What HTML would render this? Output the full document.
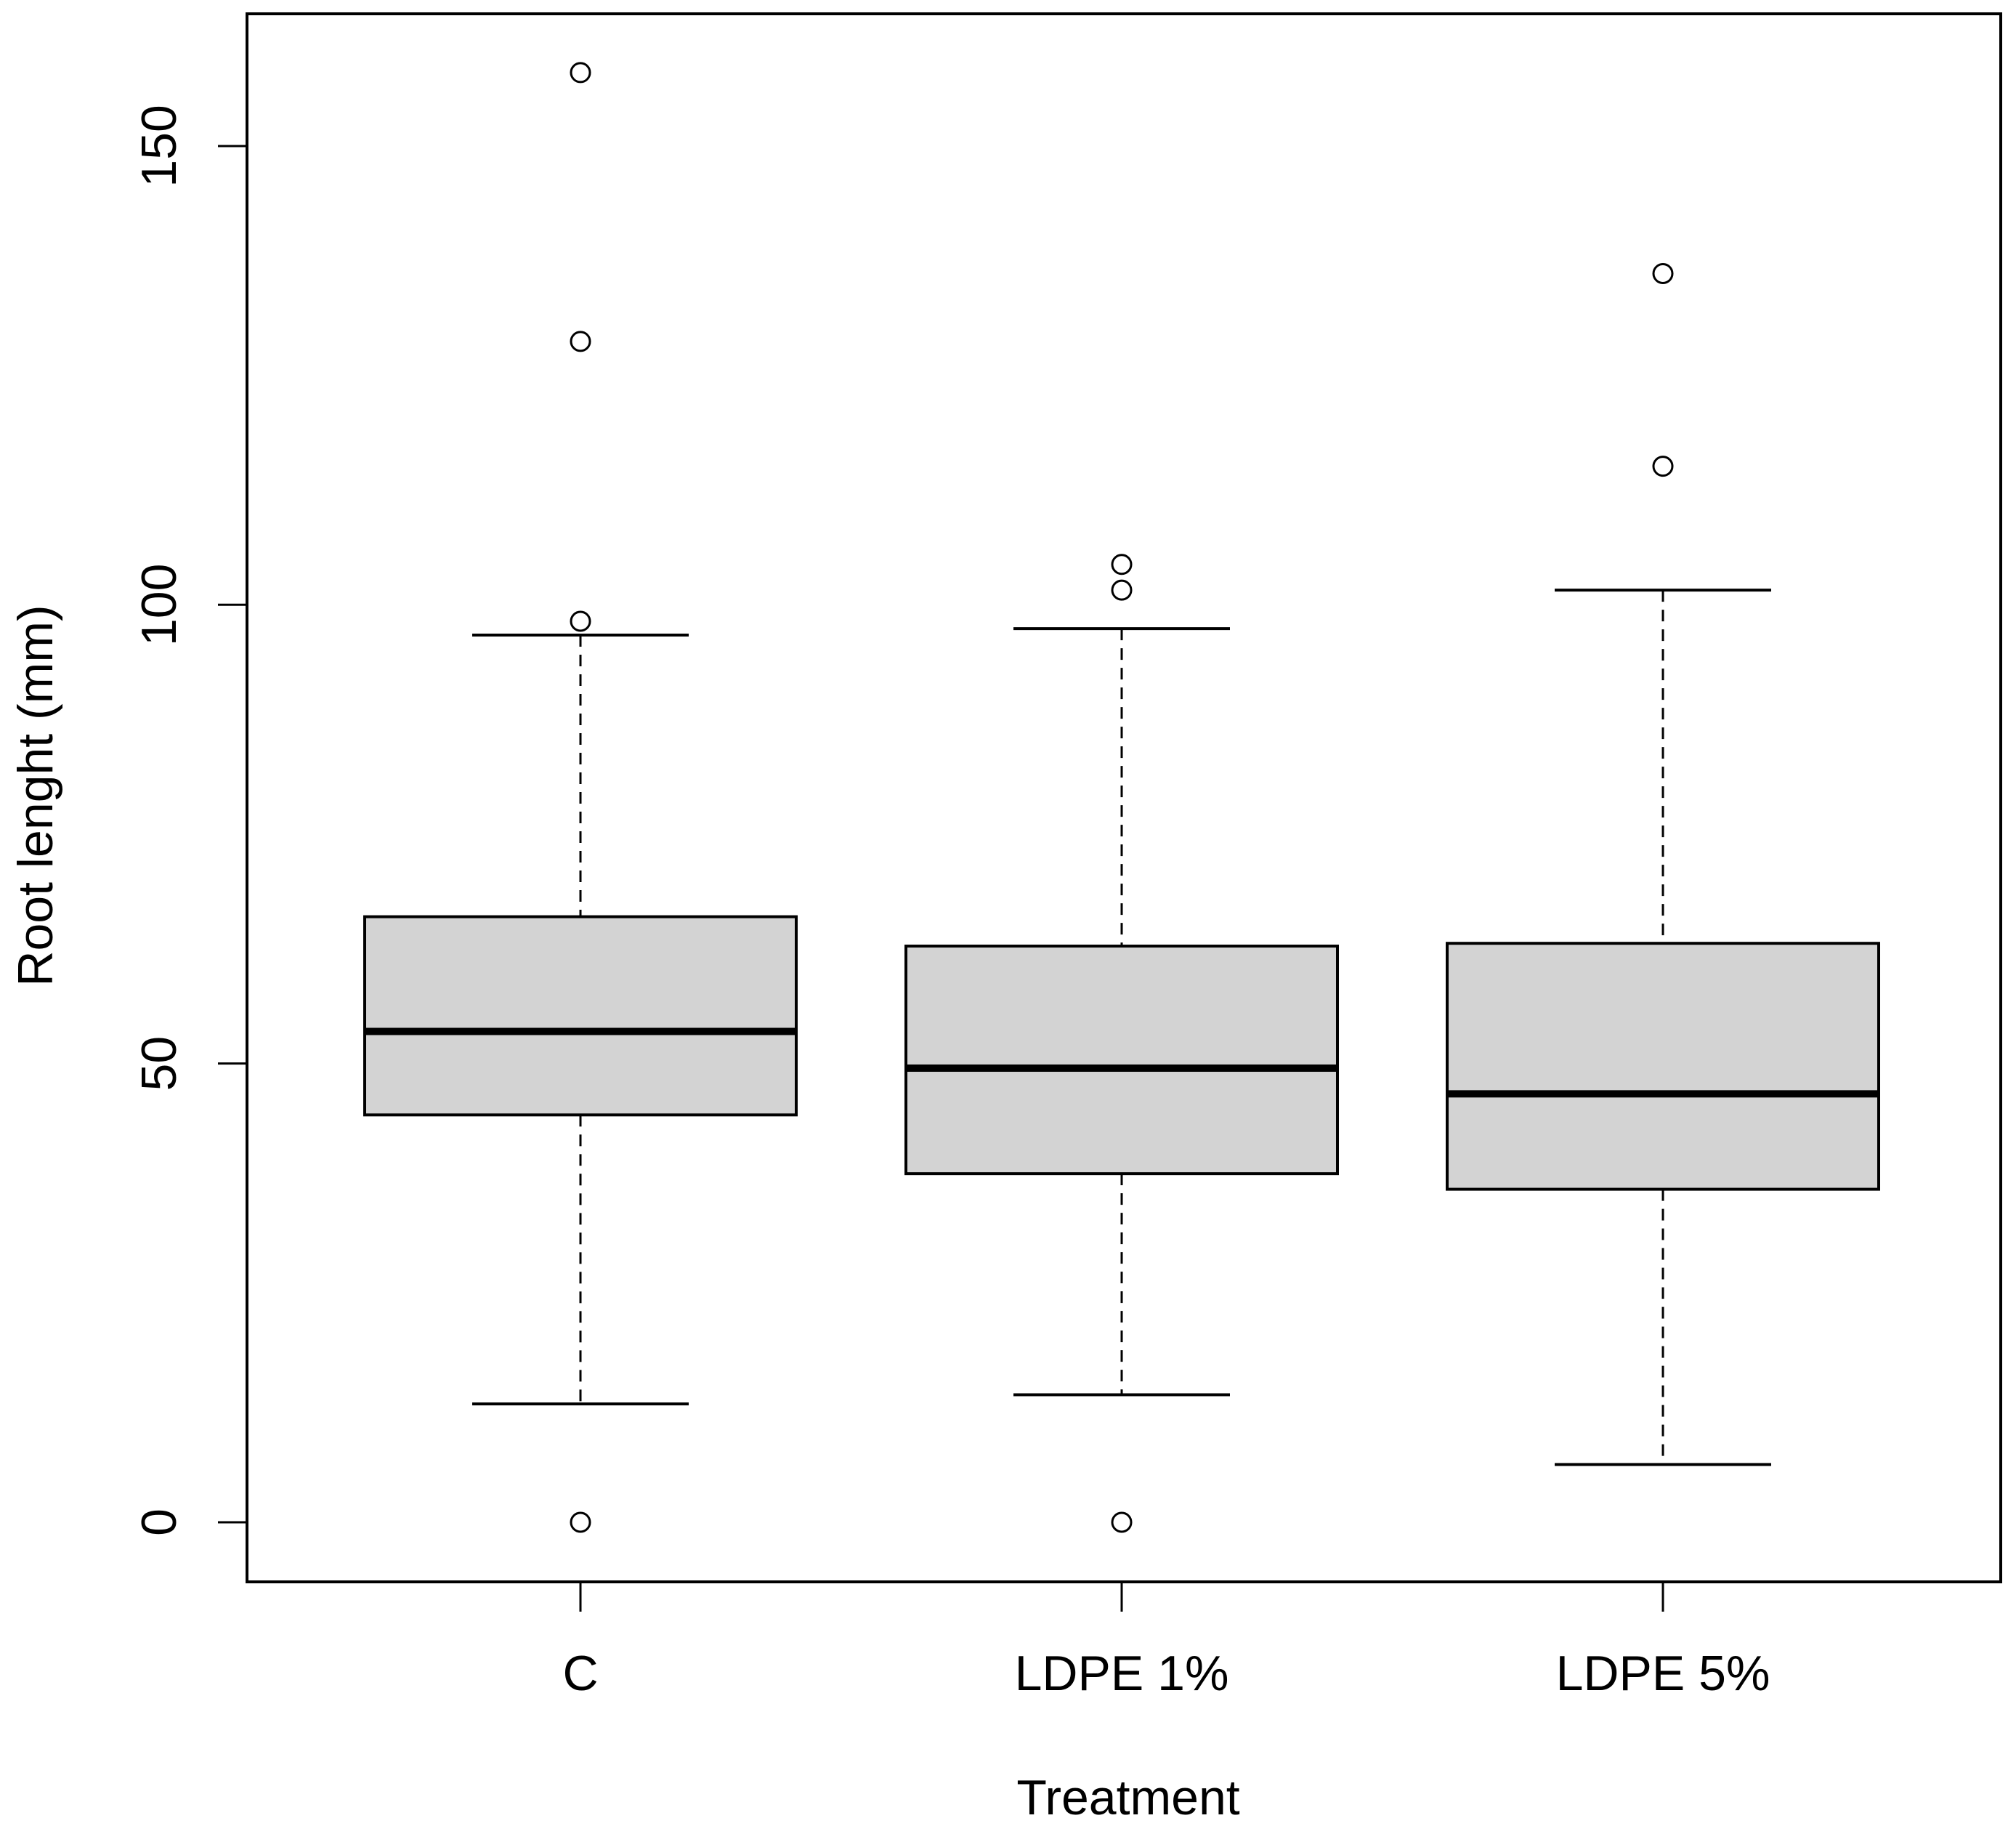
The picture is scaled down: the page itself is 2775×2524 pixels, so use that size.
<!DOCTYPE html>
<html><head><meta charset="utf-8"><style>html,body{margin:0;padding:0;background:#fff}svg{display:block}</style></head>
<body>
<svg id="chart" width="2775" height="2524" xmlns="http://www.w3.org/2000/svg" font-family="'Liberation Sans', Arial, sans-serif">
<rect x="0" y="0" width="2775" height="2524" fill="#fff"/>
<g id="marks"></g>
<rect x="340" y="19" width="2414" height="2158" fill="none" stroke="#000" stroke-width="4"/>
<text x="1553" y="2497" font-size="68" text-anchor="middle">Treatment</text>
<text transform="translate(72,1095) rotate(-90)" font-size="68" text-anchor="middle">Root lenght (mm)</text>
</svg>
<script>
const categories = ["C", "LDPE 1%", "LDPE 5%"];
const lowerWhisker = [12.9, 13.9, 6.3];
const q1 = [44.4, 38.0, 36.3];
const median = [53.5, 49.5, 46.7];
const q3 = [66.0, 62.8, 63.1];
const upperWhisker = [96.7, 97.4, 101.6];
const outliers = [[158, 128.7, 98.2, 0], [104.4, 101.6, 0], [136.1, 115.1]];
const yTicks = [0, 50, 100, 150];

const NS = "http://www.w3.org/2000/svg";
const svg = document.getElementById("chart");
const g = document.getElementById("marks");
function y(v){ return 2095 - v * 12.627; }
function x(i){ return 799 + i * 745; }
const boxHalf = 297, capHalf = 149;
function mk(tag, attrs, parent){
  const e = document.createElementNS(NS, tag);
  for (const k in attrs) e.setAttribute(k, attrs[k]);
  (parent || g).appendChild(e);
  return e;
}
categories.forEach((c, i) => {
  const cx = x(i);
  let e;
  e = mk("line", {x1: cx, x2: cx, y1: y(upperWhisker[i]), y2: y(q3[i]), stroke: "#000", "stroke-width": 3, "stroke-dasharray": "16,11"});
  
  
  e = mk("line", {x1: cx, x2: cx, y1: y(q1[i]), y2: y(lowerWhisker[i]), stroke: "#000", "stroke-width": 3, "stroke-dasharray": "16,11"});
  
  
  e = mk("line", {x1: cx - capHalf, x2: cx + capHalf, y1: y(upperWhisker[i]), y2: y(upperWhisker[i]), stroke: "#000", "stroke-width": 4});
  
  
  e = mk("line", {x1: cx - capHalf, x2: cx + capHalf, y1: y(lowerWhisker[i]), y2: y(lowerWhisker[i]), stroke: "#000", "stroke-width": 4});
  
  
  e = mk("rect", {x: cx - boxHalf, y: y(q3[i]), width: boxHalf * 2, height: y(q1[i]) - y(q3[i]), fill: "#d3d3d3", stroke: "#000", "stroke-width": 4});
  
  
  e = mk("line", {x1: cx - boxHalf, x2: cx + boxHalf, y1: y(median[i]), y2: y(median[i]), stroke: "#000", "stroke-width": 10});
  
  
  outliers[i].forEach(v => {
    const o = mk("circle", {cx: cx, cy: y(v), r: 13, fill: "none", stroke: "#000", "stroke-width": 3});
    
    
  });
  e = mk("line", {x1: cx, x2: cx, y1: 2177, y2: 2218, stroke: "#000", "stroke-width": 3}, svg);
  
  
  e = mk("text", {x: cx, y: 2326, "font-size": 68, "text-anchor": "middle"}, svg);
  e.textContent = c;
  
  
});
yTicks.forEach(t => {
  let e = mk("line", {x1: 300, x2: 340, y1: y(t), y2: y(t), stroke: "#000", "stroke-width": 3}, svg);
  
  
  e = mk("text", {transform: "translate(242," + y(t) + ") rotate(-90)", "font-size": 68, "text-anchor": "middle"}, svg);
  e.textContent = t;
  
  
});
</script>
</body></html>
